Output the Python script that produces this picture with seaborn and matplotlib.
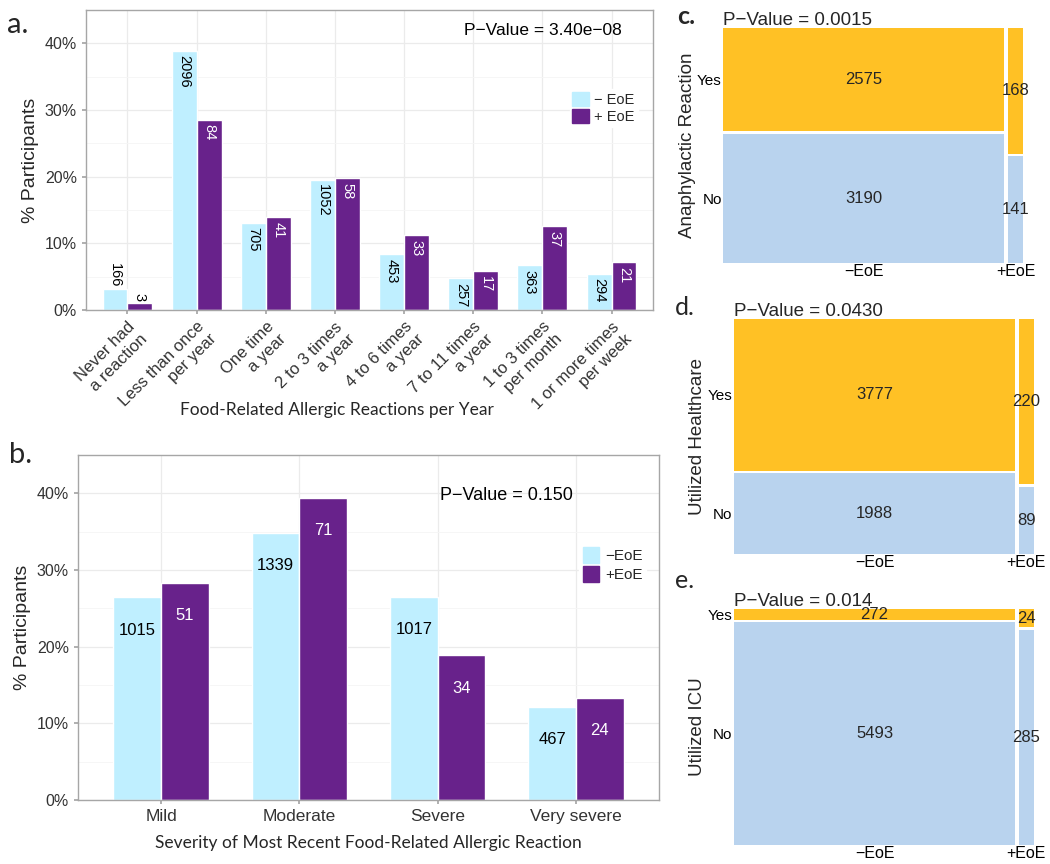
import numpy as np
import pandas as pd
import matplotlib
matplotlib.use("Agg")
import matplotlib.pyplot as plt
from matplotlib.patches import Patch
from matplotlib.ticker import MultipleLocator, PercentFormatter
import seaborn as sns

# panel a: food-related allergic reactions per year (counts)
freq_labels = ["Never had\na reaction", "Less than once\nper year", "One time\na year",
               "2 to 3 times\na year", "4 to 6 times\na year", "7 to 11 times\na year",
               "1 to 3 times\nper month", "1 or more times\nper week"]
freq_no_eoe = [166, 2096, 705, 1052, 453, 257, 363, 294]
freq_eoe = [3, 84, 41, 58, 33, 17, 37, 21]

# panel b: severity of most recent reaction (counts)
sev_labels = ["Mild", "Moderate", "Severe", "Very severe"]
sev_no_eoe = [1015, 1339, 1017, 467]
sev_eoe = [51, 71, 34, 24]

# panels c-e: mosaic counts, [yes, no]
anaph_no_eoe = [2575, 3190]
anaph_eoe = [168, 141]
health_no_eoe = [3777, 1988]
health_eoe = [220, 89]
icu_no_eoe = [272, 5493]
icu_eoe = [24, 285]

pvals = ["3.40e\u221208", "0.150", "0.0015", "0.0430", "0.014"]

LIGHT = "#BFEFFF"
PURPLE = "#68228B"
GOLD = "#FFC125"
SLATE = "#B9D3EE"
GRID = "#EBEBEB"
BORDER = "#A6A6A6"

sns.set_theme(style="white")
plt.rcParams["font.family"] = ["Liberation Sans", "DejaVu Sans"]


def make_frame(labels, neg, pos, neg_name, pos_name):
    neg = np.array(neg, dtype=float)
    pos = np.array(pos, dtype=float)
    df = pd.DataFrame({
        "cat": list(labels) * 2,
        "group": [neg_name] * len(labels) + [pos_name] * len(labels),
        "count": list(neg.astype(int)) + list(pos.astype(int)),
        "pct": list(neg / neg.sum() * 100) + list(pos / pos.sum() * 100),
    })
    return df


def style_bar_axes(ax, ncat):
    ax.set_xlim(-0.6, ncat - 0.4)
    ax.set_ylim(0, 45)
    ax.yaxis.set_major_locator(MultipleLocator(10))
    ax.yaxis.set_minor_locator(MultipleLocator(5))
    ax.yaxis.set_major_formatter(PercentFormatter(decimals=0))
    ax.set_axisbelow(True)
    ax.grid(True, which="major", color=GRID, lw=0.9)
    ax.grid(True, which="minor", axis="y", color="#F5F5F5", lw=0.6)
    for s in ax.spines.values():
        s.set_color(BORDER)
        s.set_linewidth(1.0)
    ax.tick_params(axis="both", which="major", length=3, color=BORDER,
                   labelcolor="#333333", bottom=True, left=True)
    ax.tick_params(axis="y", which="minor", length=0)


fig = plt.figure(figsize=(10.5, 8.64), dpi=100)

# ---------------- panel a ----------------
ax_a = fig.add_axes([0.0819, 0.6412, 0.54, 0.3472])
df_a = make_frame(freq_labels, freq_no_eoe, freq_eoe, "- EoE", "+ EoE")
sns.barplot(data=df_a, x="cat", y="pct", hue="group", order=freq_labels,
            hue_order=["- EoE", "+ EoE"], palette=[LIGHT, PURPLE], width=0.72,
            saturation=1, legend=False, ax=ax_a)
style_bar_axes(ax_a, len(freq_labels))
for cont, counts, tcol in zip(ax_a.containers, [freq_no_eoe, freq_eoe], ["black", "white"]):
    for bar, n in zip(cont, counts):
        h = bar.get_height()
        xc = bar.get_x() + bar.get_width() / 2
        if h > 4:
            ax_a.text(xc, h - 0.7, str(n), rotation=-90, ha="center", va="top",
                      color=tcol, fontsize=10.5)
        else:
            ax_a.text(xc, h + 0.3, str(n), rotation=-90, ha="center", va="bottom",
                      color="black", fontsize=10.5)
ax_a.set_xticks(range(len(freq_labels)))
ax_a.set_xticklabels(freq_labels, rotation=45, ha="right", va="top",
                     rotation_mode="anchor", fontsize=12)
ax_a.tick_params(axis="y", labelsize=11.5)
ax_a.set_xlabel("")
ax_a.set_ylabel("% Participants", fontsize=14, labelpad=4)
ax_a.text(0.806, 0.933, "P\u2212Value = " + pvals[0], transform=ax_a.transAxes,
          ha="center", va="center", fontsize=12.5, color="black")
ax_a.legend(handles=[Patch(facecolor=LIGHT, edgecolor=LIGHT),
                     Patch(facecolor=PURPLE, edgecolor=PURPLE)],
            labels=["\u2212 EoE", "+ EoE"], loc="upper left",
            bbox_to_anchor=(0.84, 0.76), frameon=True, facecolor="white",
            edgecolor="white", fontsize=10.5, handlelength=1.1, handleheight=1.1,
            handletextpad=0.4, labelspacing=0.15, borderpad=0.2, framealpha=1)
fig.text(337 / 1050, 1 - 410 / 864, "Food-Related Allergic Reactions per Year",
         ha="center", va="center", fontsize=12.5, family=["Lato", "DejaVu Sans"])

# ---------------- panel b ----------------
ax_b = fig.add_axes([0.0743, 0.0741, 0.5533, 0.3993])
df_b = make_frame(sev_labels, sev_no_eoe, sev_eoe, "-EoE", "+EoE")
sns.barplot(data=df_b, x="cat", y="pct", hue="group", order=sev_labels,
            hue_order=["-EoE", "+EoE"], palette=[LIGHT, PURPLE], width=0.69,
            saturation=1, legend=False, ax=ax_b)
style_bar_axes(ax_b, len(sev_labels))
for cont, counts, tcol in zip(ax_b.containers, [sev_no_eoe, sev_eoe], ["black", "white"]):
    for bar, n in zip(cont, counts):
        h = bar.get_height()
        xc = bar.get_x() + bar.get_width() / 2
        ax_b.text(xc, h - 4.3, str(n), ha="center", va="center", color=tcol, fontsize=12)
ax_b.tick_params(axis="x", labelsize=12.5)
ax_b.tick_params(axis="y", labelsize=11.5)
ax_b.set_xlabel("Severity of Most Recent Food-Related Allergic Reaction", fontsize=12.5,
                family=["Lato", "DejaVu Sans"], labelpad=8)
ax_b.set_ylabel("% Participants", fontsize=14, labelpad=4)
ax_b.text(0.738, 0.884, "P\u2212Value = " + pvals[1], transform=ax_b.transAxes,
          ha="center", va="center", fontsize=13, color="black")
ax_b.legend(handles=[Patch(facecolor=LIGHT, edgecolor=LIGHT),
                     Patch(facecolor=PURPLE, edgecolor=PURPLE)],
            labels=["\u2212EoE", "+EoE"], loc="upper left",
            bbox_to_anchor=(0.85, 0.765), frameon=True, facecolor="white",
            edgecolor="white", fontsize=11, handlelength=1.1, handleheight=1.3,
            handletextpad=0.4, labelspacing=0.15, borderpad=0.2, framealpha=1)


# ---------------- mosaic panels ----------------
def draw_mosaic(ax, neg, pos, ylabel, pval):
    xgap, ygap = 0.012, 0.01
    totals = np.array([sum(neg), sum(pos)], dtype=float)
    widths = totals / totals.sum() * (1 - xgap)
    lefts = [0.0, widths[0] + xgap]
    for col, (left, w) in enumerate(zip(lefts, widths)):
        yes, no = (neg, pos)[col]
        h_no = no / (yes + no) * (1 - ygap)
        h_yes = 1 - ygap - h_no
        ax.bar(left, h_no, width=w, bottom=0, align="edge", color=SLATE, lw=0)
        ax.bar(left, h_yes, width=w, bottom=h_no + ygap, align="edge", color=GOLD, lw=0)
        ax.text(left + w / 2, h_no / 2, str(no), ha="center", va="center", fontsize=12)
        ax.text(left + w / 2, h_no + ygap + h_yes / 2, str(yes), ha="center",
                va="center", fontsize=12)
        if col == 0:
            ax.set_yticks([h_no + ygap + h_yes / 2, h_no / 2])
            ax.set_yticklabels(["Yes", "No"])
    ax.set_xticks([lefts[0] + widths[0] / 2, lefts[1] + widths[1] / 2])
    ax.set_xticklabels(["\u2212EoE", "+EoE"])
    ax.set_xlim(0, 1)
    ax.set_ylim(0, 1)
    for s in ax.spines.values():
        s.set_visible(False)
    ax.tick_params(axis="both", length=0, pad=1, labelcolor="black")
    ax.tick_params(axis="y", labelsize=11)
    ax.tick_params(axis="x", labelsize=11.5)
    ax.set_ylabel(ylabel, fontsize=13.5, labelpad=1)
    ax.set_title("P\u2212Value = " + pval, loc="left", fontsize=13.5, pad=2)


ax_c = fig.add_axes([0.6886, 0.6961, 0.2857, 0.272])
draw_mosaic(ax_c, anaph_no_eoe, anaph_eoe, "Anaphylactic Reaction", pvals[2])
ax_d = fig.add_axes([0.699, 0.3593, 0.2857, 0.272])
draw_mosaic(ax_d, health_no_eoe, health_eoe, "Utilized Healthcare", pvals[3])
ax_e = fig.add_axes([0.699, 0.022, 0.2857, 0.2731])
draw_mosaic(ax_e, icu_no_eoe, icu_eoe, "Utilized ICU", pvals[4])

# panel letters
letter_font = ["Lato", "DejaVu Sans"]
fig.text(7 / 1050, 1 - 33 / 864, "a.", fontsize=21, family=letter_font, va="baseline")
fig.text(9 / 1050, 1 - 463 / 864, "b.", fontsize=21, family=letter_font, va="baseline")
fig.text(677 / 1050, 1 - 24 / 864, "c.", fontsize=18, family=letter_font, va="baseline",
         weight="bold")
fig.text(675 / 1050, 1 - 315 / 864, "d.", fontsize=18, family=letter_font, va="baseline")
fig.text(675 / 1050, 1 - 588 / 864, "e.", fontsize=18, family=letter_font, va="baseline")

fig.savefig("out.png", dpi=100, facecolor="white")
